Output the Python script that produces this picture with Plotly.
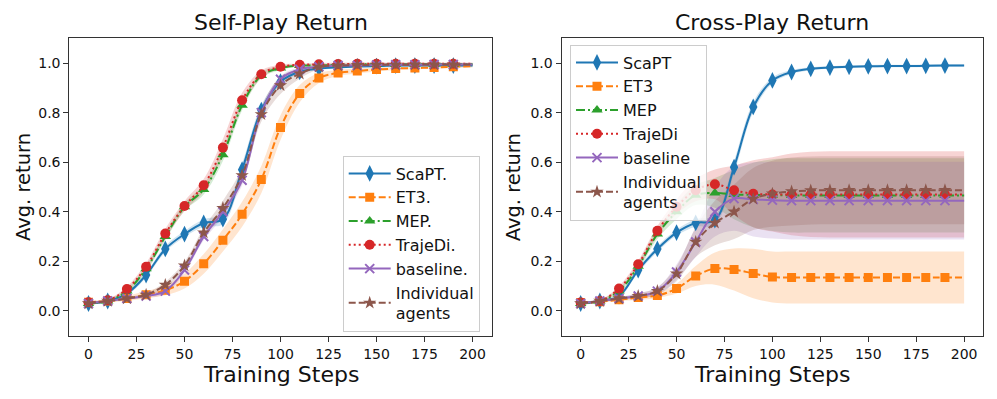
import plotly.graph_objects as go

# training steps (markers every 10, line runs to 200)
STEPS = list(range(0, 201, 10))

NAMES = ["ScaPT", "ET3", "MEP", "TrajeDi", "baseline", "Individual agents"]

# ---- Self-Play return: mean / std ----
scapt_sp = [0.03, 0.04, 0.07, 0.145, 0.25, 0.31, 0.355, 0.37, 0.57, 0.81, 0.925,
            0.965, 0.978, 0.983, 0.986, 0.988, 0.99, 0.99, 0.99, 0.99, 0.99]
et3_sp = [0.035, 0.04, 0.05, 0.065, 0.083, 0.12, 0.19, 0.285, 0.39, 0.53, 0.74,
          0.877, 0.94, 0.96, 0.968, 0.974, 0.978, 0.98, 0.982, 0.985, 0.987]
mep_sp = [0.03, 0.04, 0.08, 0.17, 0.30, 0.42, 0.49, 0.63, 0.83, 0.95, 0.98,
          0.99, 0.99, 0.993, 0.995, 0.995, 0.995, 0.995, 0.995, 0.995, 0.995]
trajedi_sp = [0.035, 0.043, 0.088, 0.178, 0.312, 0.423, 0.507, 0.659, 0.85, 0.955, 0.985,
              0.993, 0.995, 0.996, 0.997, 0.997, 0.997, 0.997, 0.997, 0.997, 0.997]
baseline_sp = [0.03, 0.04, 0.05, 0.06, 0.08, 0.165, 0.30, 0.40, 0.527, 0.80, 0.935,
               0.975, 0.985, 0.99, 0.99, 0.992, 0.993, 0.993, 0.994, 0.994, 0.994]
indiv_sp = [0.03, 0.04, 0.05, 0.065, 0.105, 0.183, 0.316, 0.415, 0.547, 0.793, 0.91,
            0.957, 0.985, 0.99, 0.992, 0.993, 0.993, 0.994, 0.994, 0.994, 0.994]

scapt_sp_std = [0.005, 0.005, 0.008, 0.01, 0.012, 0.012, 0.015, 0.02, 0.025, 0.02, 0.012,
                0.008, 0.005, 0.005, 0.005, 0.005, 0.005, 0.005, 0.005, 0.005, 0.005]
et3_sp_std = [0.005, 0.005, 0.01, 0.015, 0.02, 0.03, 0.04, 0.045, 0.05, 0.055, 0.05,
              0.035, 0.02, 0.012, 0.01, 0.008, 0.006, 0.005, 0.005, 0.005, 0.005]
mep_sp_std = [0.005, 0.005, 0.01, 0.012, 0.015, 0.015, 0.02, 0.025, 0.02, 0.012, 0.008,
              0.005, 0.005, 0.005, 0.005, 0.005, 0.005, 0.005, 0.005, 0.005, 0.005]
trajedi_sp_std = [0.005, 0.005, 0.01, 0.015, 0.02, 0.02, 0.025, 0.035, 0.03, 0.015, 0.008,
                  0.005, 0.005, 0.005, 0.005, 0.005, 0.005, 0.005, 0.005, 0.005, 0.005]
baseline_sp_std = [0.005, 0.005, 0.005, 0.008, 0.01, 0.012, 0.015, 0.02, 0.02, 0.02, 0.012,
                   0.008, 0.005, 0.005, 0.005, 0.005, 0.005, 0.005, 0.005, 0.005, 0.005]
indiv_sp_std = [0.005, 0.005, 0.005, 0.008, 0.012, 0.015, 0.02, 0.03, 0.03, 0.03, 0.035,
                0.02, 0.01, 0.005, 0.005, 0.005, 0.005, 0.005, 0.005, 0.005, 0.005]

# ---- Cross-Play return: mean / std ----
scapt_xp = [0.03, 0.04, 0.06, 0.165, 0.25, 0.316, 0.355, 0.366, 0.58, 0.823, 0.93,
            0.964, 0.977, 0.982, 0.985, 0.987, 0.988, 0.988, 0.989, 0.99, 0.99]
et3_xp = [0.034, 0.037, 0.045, 0.054, 0.062, 0.09, 0.141, 0.171, 0.167, 0.151, 0.137,
          0.135, 0.135, 0.135, 0.135, 0.135, 0.135, 0.135, 0.135, 0.135, 0.135]
mep_xp = [0.03, 0.04, 0.08, 0.18, 0.31, 0.40, 0.467, 0.476, 0.47, 0.468, 0.467,
          0.466, 0.466, 0.466, 0.466, 0.466, 0.466, 0.466, 0.466, 0.466, 0.466]
trajedi_xp = [0.034, 0.04, 0.09, 0.188, 0.323, 0.42, 0.487, 0.511, 0.487, 0.473, 0.47,
              0.47, 0.47, 0.47, 0.47, 0.47, 0.47, 0.47, 0.47, 0.47, 0.47]
baseline_xp = [0.03, 0.04, 0.05, 0.06, 0.08, 0.157, 0.278, 0.40, 0.453, 0.45, 0.447,
               0.445, 0.445, 0.445, 0.445, 0.445, 0.445, 0.445, 0.445, 0.445, 0.445]
indiv_xp = [0.03, 0.04, 0.05, 0.06, 0.08, 0.15, 0.278, 0.355, 0.40, 0.452, 0.473,
            0.482, 0.486, 0.487, 0.487, 0.487, 0.487, 0.487, 0.487, 0.487, 0.487]

scapt_xp_std = [0.005, 0.005, 0.008, 0.01, 0.012, 0.012, 0.015, 0.02, 0.025, 0.02, 0.012,
                0.008, 0.006, 0.005, 0.005, 0.005, 0.005, 0.005, 0.005, 0.005, 0.005]
et3_xp_std = [0.003, 0.003, 0.005, 0.01, 0.01, 0.02, 0.04, 0.065, 0.085, 0.1, 0.103,
              0.105, 0.105, 0.105, 0.105, 0.105, 0.105, 0.105, 0.105, 0.105, 0.105]
mep_xp_std = [0.005, 0.005, 0.01, 0.015, 0.02, 0.03, 0.04, 0.06, 0.1, 0.13, 0.145,
              0.15, 0.15, 0.15, 0.15, 0.15, 0.15, 0.15, 0.15, 0.15, 0.15]
trajedi_xp_std = [0.005, 0.005, 0.01, 0.015, 0.02, 0.03, 0.045, 0.06, 0.1, 0.135, 0.15,
                  0.165, 0.172, 0.174, 0.174, 0.174, 0.174, 0.174, 0.174, 0.174, 0.174]
baseline_xp_std = [0.005, 0.005, 0.005, 0.01, 0.015, 0.03, 0.06, 0.1, 0.13, 0.15, 0.155,
                   0.157, 0.157, 0.157, 0.157, 0.157, 0.157, 0.157, 0.157, 0.157, 0.157]
indiv_xp_std = [0.005, 0.005, 0.005, 0.01, 0.015, 0.03, 0.06, 0.09, 0.11, 0.125, 0.133,
                0.137, 0.137, 0.137, 0.137, 0.137, 0.137, 0.137, 0.137, 0.137, 0.137]

SELF_PLAY = [scapt_sp, et3_sp, mep_sp, trajedi_sp, baseline_sp, indiv_sp]
SELF_STD = [scapt_sp_std, et3_sp_std, mep_sp_std, trajedi_sp_std, baseline_sp_std, indiv_sp_std]
CROSS_PLAY = [scapt_xp, et3_xp, mep_xp, trajedi_xp, baseline_xp, indiv_xp]
CROSS_STD = [scapt_xp_std, et3_xp_std, mep_xp_std, trajedi_xp_std, baseline_xp_std, indiv_xp_std]

X_TICKS = [0, 25, 50, 75, 100, 125, 150, 175, 200]
Y_TICKS = [0.0, 0.2, 0.4, 0.6, 0.8, 1.0]

COLORS = ["#1f77b4", "#ff7f0e", "#2ca02c", "#d62728", "#9467bd", "#8c564b"]
FILLS = ["rgba(31,119,180,0.2)", "rgba(255,127,14,0.2)", "rgba(44,160,44,0.2)",
         "rgba(214,39,40,0.2)", "rgba(148,103,189,0.2)", "rgba(140,86,75,0.2)"]
DASHES = ["solid", "7px,3px", "9px,3px,2px,3px", "2px,3px", "solid", "7px,3px"]
SYMBOLS = ["diamond-tall", "square", "triangle-up", "circle", "x-thin", "star"]
SIZES = [12, 9, 10, 10, 9, 10]

FONT = "DejaVu Sans"
W, H = 997, 399


def px_x(p):
    return p / W


def px_y(p):
    return (H - p) / H


fig = go.Figure()


def add_panel(means, stds, xa, ya, legend, labels):
    # shaded std bands first
    for mean, std, fill in zip(means, stds, FILLS):
        upper = [m + s for m, s in zip(mean, std)]
        lower = [m - s for m, s in zip(mean, std)]
        fig.add_trace(go.Scatter(x=STEPS, y=upper, mode="lines", line=dict(width=0, shape="spline"),
                                 xaxis=xa, yaxis=ya, showlegend=False, hoverinfo="skip"))
        fig.add_trace(go.Scatter(x=STEPS, y=lower, mode="lines", line=dict(width=0, shape="spline"),
                                 fill="tonexty", fillcolor=fill, xaxis=xa, yaxis=ya,
                                 showlegend=False, hoverinfo="skip"))
    for i, mean in enumerate(means):
        line = dict(color=COLORS[i], width=2, dash=DASHES[i], shape="spline")
        if SYMBOLS[i] == "x-thin":
            marker = dict(symbol="x-thin", size=SIZES[i], color=COLORS[i],
                          line=dict(width=2, color=COLORS[i]))
        else:
            marker = dict(symbol=SYMBOLS[i], size=SIZES[i], color=COLORS[i],
                          line=dict(width=0))
        fig.add_trace(go.Scatter(x=STEPS[:-1], y=mean[:-1], mode="lines+markers", name=labels[i],
                                 line=line, marker=marker, xaxis=xa, yaxis=ya, legend=legend))
        # tail of the curve past the last marker
        fig.add_trace(go.Scatter(x=STEPS[-2:], y=mean[-2:], mode="lines", line=line,
                                 xaxis=xa, yaxis=ya, showlegend=False, hoverinfo="skip"))


left_labels = ["ScaPT.", "ET3.", "MEP.", "TrajeDi.", "baseline.", "Individual<br>agents"]
right_labels = ["ScaPT", "ET3", "MEP", "TrajeDi", "baseline", "Individual<br>agents"]

add_panel(SELF_PLAY, SELF_STD, "x", "y", "legend", left_labels)
add_panel(CROSS_PLAY, CROSS_STD, "x2", "y2", "legend2", right_labels)

axis_common = dict(showline=True, mirror=True, linecolor="#333", linewidth=1,
                   ticks="outside", ticklen=5, tickcolor="#333", showgrid=False,
                   zeroline=False, automargin=False,
                   tickfont=dict(family=FONT, size=14, color="#111"))
ydom = [px_y(335.7), px_y(38.3)]

legend_common = dict(xanchor="left", yanchor="top", traceorder="normal",
                     bgcolor="rgba(255,255,255,0.8)", bordercolor="#cccccc", borderwidth=1,
                     font=dict(family=FONT, size=16, color="#111"), itemwidth=42)

fig.update_layout(
    width=W, height=H,
    margin=dict(l=0, r=0, t=0, b=0, autoexpand=False),
    paper_bgcolor="white", plot_bgcolor="white",
    font=dict(family=FONT, color="#111"),
    xaxis=dict(domain=[px_x(69.3), px_x(491.7)], range=[-10, 210], tickvals=X_TICKS,
               anchor="y", **axis_common),
    yaxis=dict(domain=ydom, range=[-0.1, 1.1], tickvals=Y_TICKS, tickformat=".1f",
               anchor="x", **axis_common),
    xaxis2=dict(domain=[px_x(561.5), px_x(983.3)], range=[-10, 210], tickvals=X_TICKS,
                anchor="y2", **axis_common),
    yaxis2=dict(domain=ydom, range=[-0.1, 1.1], tickvals=Y_TICKS, tickformat=".1f",
                anchor="x2", **axis_common),
    legend=dict(x=px_x(342.7), y=px_y(155.5), **legend_common),
    legend2=dict(x=px_x(570), y=px_y(44.5), **legend_common),
)

annotations = [
    dict(text="Self-Play Return", x=px_x(280.5), y=px_y(22.7), size=22, angle=0),
    dict(text="Cross-Play Return", x=px_x(772.4), y=px_y(22.7), size=22, angle=0),
    dict(text="Training Steps", x=px_x(280.5), y=px_y(374), size=22, angle=0),
    dict(text="Training Steps", x=px_x(772.4), y=px_y(374), size=22, angle=0),
    dict(text="Avg. return", x=px_x(23), y=px_y(187), size=19.5, angle=-90),
    dict(text="Avg. return", x=px_x(513.3), y=px_y(187), size=19.5, angle=-90),
]
for a in annotations:
    fig.add_annotation(text=a["text"], x=a["x"], y=a["y"], xref="paper", yref="paper",
                       xanchor="center", yanchor="middle", showarrow=False, textangle=a["angle"],
                       font=dict(family=FONT, size=a["size"], color="#111"))

# drop the browser's default page margin so the figure sits at the window's origin
fig.write_html("out.html", config={"displayModeBar": False},
               post_script="document.body.style.margin='0';")
